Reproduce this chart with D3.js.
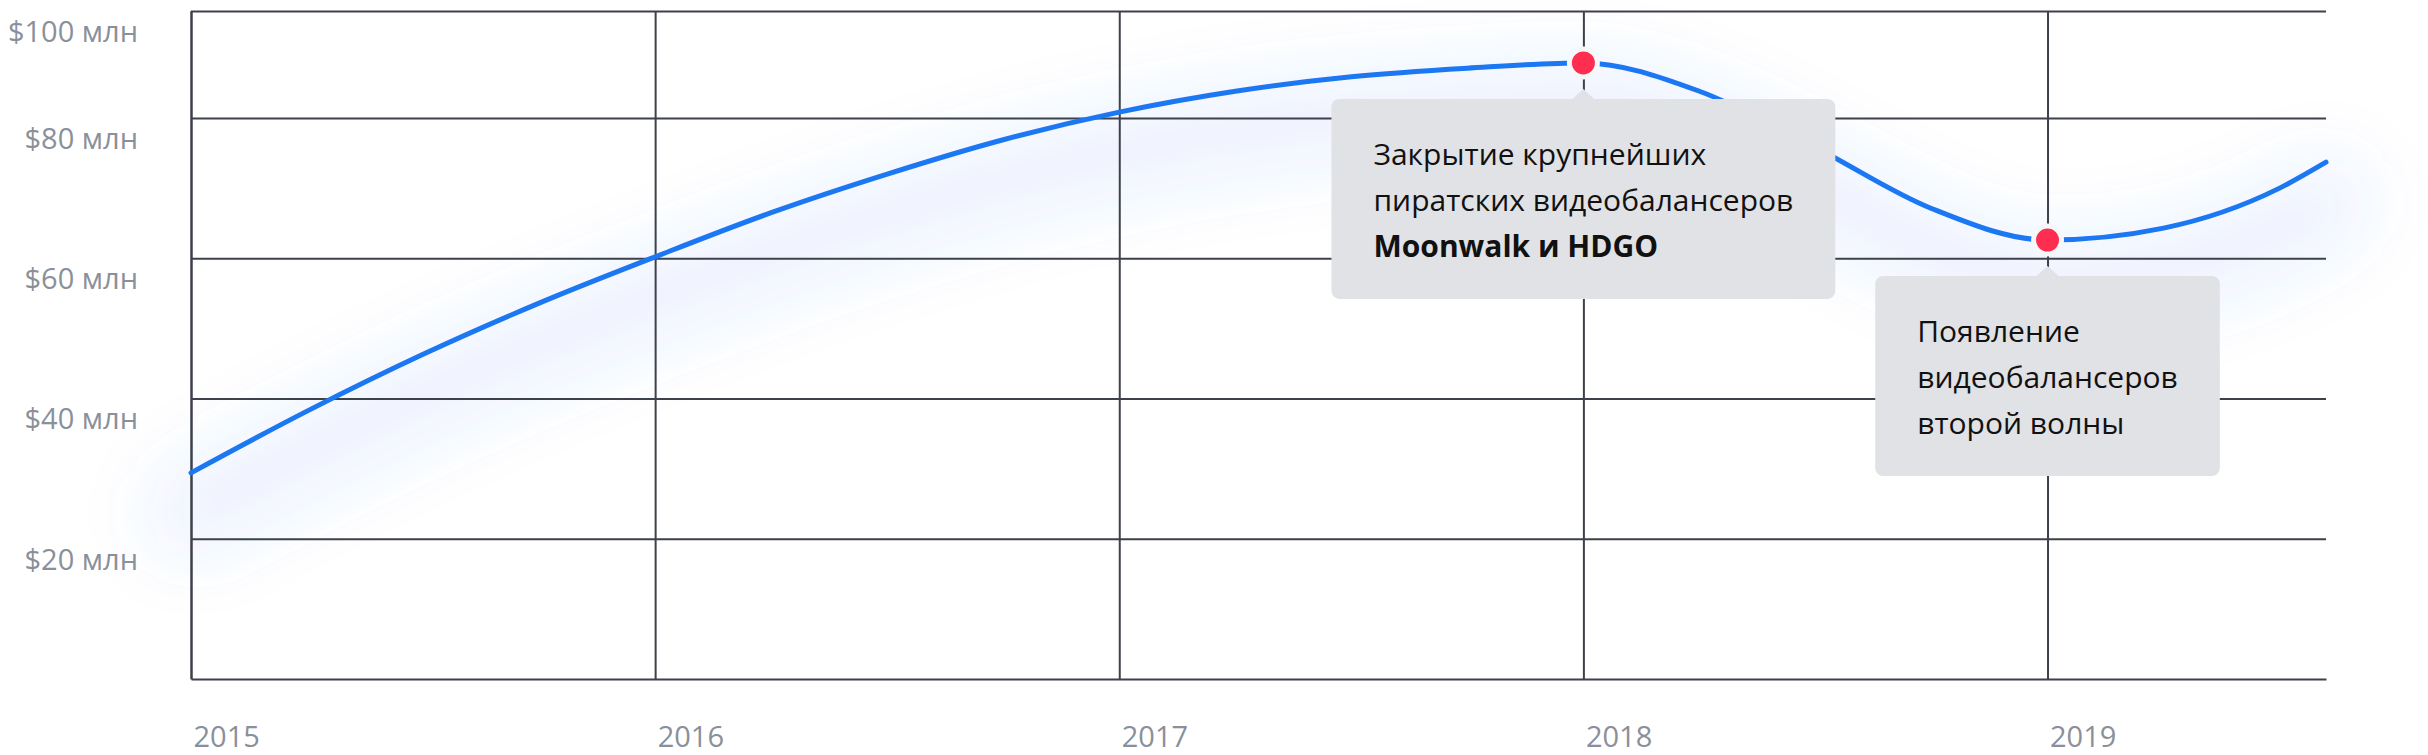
<!DOCTYPE html>
<html>
<head>
<meta charset="utf-8">
<script src="https://cdn.jsdelivr.net/npm/d3@7"></script>
<style>
  html, body { margin: 0; padding: 0; background: #fff; }
  .axis text { font-family: "Open Sans", sans-serif; font-size: 29px; fill: #8a9099; }
  .axis line, .axis path { stroke: #3d414a; stroke-width: 2px; }
  .note text { font-family: "Open Sans", sans-serif; font-size: 30px; fill: #111; }
</style>
</head>
<body>
<svg width="2428" height="755"></svg>
<script>
// revenue of pirate sites, $ mln at quarter-year steps
var years   = [2015, 2015.25, 2015.5, 2015.75, 2016, 2016.25, 2016.5, 2016.75, 2017,
               2017.25, 2017.5, 2017.75, 2018, 2018.25, 2018.5, 2018.75, 2019, 2019.25, 2019.5, 2019.6];
var revenue = [29.4, 38.2, 46.3, 53.6, 60.2, 66.5, 72.0, 76.9, 81.1,
               85.0, 87.7, 89.3, 90.3, 85.0, 75.8, 67.1, 62.6, 64.3, 70.0, 73.7];

var yTicks = [20, 40, 60, 80, 100];
var xTicks = [2015, 2016, 2017, 2018, 2019];

var noteYears = [2018, 2019];
var noteLines = [
  ["Закрытие крупнейших", "пиратских видеобалансеров", "Moonwalk и HDGO"],
  ["Появление", "видеобалансеров", "второй волны"]
];
var noteBold = [[false, false, true], [false, false, false]];

function plotRevenue () {

  var svg = d3.select("svg"),
  margin = {top: 11, right: 102, bottom: 76, left: 191},
  width = svg.attr("width") - margin.left - margin.right,
  height = svg.attr("height") - margin.top - margin.bottom;

  var x = d3.scaleLinear().domain([2015, 2019.6]).range([0, width]),
  // the top row of the grid is squeezed in the original, so the scale is piecewise
  y = d3.scaleLinear().domain([0, 80, 100]).range([height, height * 107 / 668, 0]);

  var data = years.map(function (d, i) { return {year: d, value: revenue[i]}; });

  var line = d3.line()
  .x(function (d) { return x(d.year); })
  .y(function (d) { return y(d.value); })
  .curve(d3.curveMonotoneX);

  var defs = svg.append("defs");
  defs.append("filter")
  .attr("id", "glow")
  .attr("filterUnits", "userSpaceOnUse")
  .attr("x", -300).attr("y", -300).attr("width", 3200).attr("height", 1400)
  .append("feGaussianBlur").attr("stdDeviation", 34);

  var g = svg.append("g")
  .attr("transform", "translate(" + margin.left + "," + margin.top + ")");

  // soft blue shadow under the line
  g.append("path")
  .datum(data)
  .attr("d", line)
  .attr("fill", "none")
  .attr("stroke", "#2f7ff0")
  .attr("stroke-opacity", 0.09)
  .attr("stroke-width", 90)
  .attr("stroke-linecap", "round")
  .attr("transform", "translate(0,40)")
  .attr("filter", "url(#glow)");

  var xAxis = g.append("g")
  .attr("class", "axis axis--x")
  .attr("transform", "translate(0," + height + ")")
  .call(d3.axisBottom(x).tickValues(xTicks).tickSize(-height).tickSizeOuter(0).tickFormat(d3.format("d")));
  xAxis.selectAll("text")
  .attr("text-anchor", "start")
  .attr("x", 2)
  .attr("y", 68)
  .attr("dy", 0);

  var yAxis = g.append("g")
  .attr("class", "axis axis--y")
  .call(d3.axisLeft(y).tickValues(yTicks).tickSize(-width).tickSizeOuter(0)
    .tickFormat(function (d) { return "$" + d + " млн"; }));
  yAxis.selectAll("text")
  .attr("x", -53)
  .attr("dy", "1.05em");

  g.append("path")
  .datum(data)
  .attr("d", line)
  .attr("fill", "none")
  .attr("stroke", "#1b78f2")
  .attr("stroke-width", 5)
  .attr("stroke-linecap", "round");

  // annotations
  noteYears.forEach(function (yr, k) {
    var d = data.filter(function (p) { return p.year === yr; })[0];
    var cx = x(d.year), cy = y(d.value);
    var top = cy + 36, pad = 42, lh = 46;

    var note = g.append("g").attr("class", "note");
    var box = note.append("rect");
    var texts = note.selectAll("text")
    .data(noteLines[k])
    .enter().append("text")
    .attr("y", function (t, i) { return top + 66 + i * lh; })
    .attr("font-weight", function (t, i) { return noteBold[k][i] ? 700 : 400; })
    .text(function (t) { return t; });

    var tw = d3.max(texts.nodes(), function (n) { return n.getComputedTextLength(); });
    var bw = tw + 2 * pad;
    texts.attr("x", cx - bw / 2 + pad);

    box.attr("x", cx - bw / 2)
    .attr("y", top)
    .attr("width", bw)
    .attr("height", 200)
    .attr("rx", 8)
    .attr("fill", "#e1e2e6");

    note.append("path")
    .attr("d", "M" + (cx - 12) + "," + (top + 1) + "L" + cx + "," + (top - 10) + "L" + (cx + 12) + "," + (top + 1) + "Z")
    .attr("fill", "#e1e2e6");

    g.append("circle")
    .attr("cx", cx)
    .attr("cy", cy)
    .attr("r", 14)
    .attr("fill", "#ff2d50")
    .attr("stroke", "#f6f7f9")
    .attr("stroke-width", 5);
  });
}

plotRevenue();
</script>
</body>
</html>
